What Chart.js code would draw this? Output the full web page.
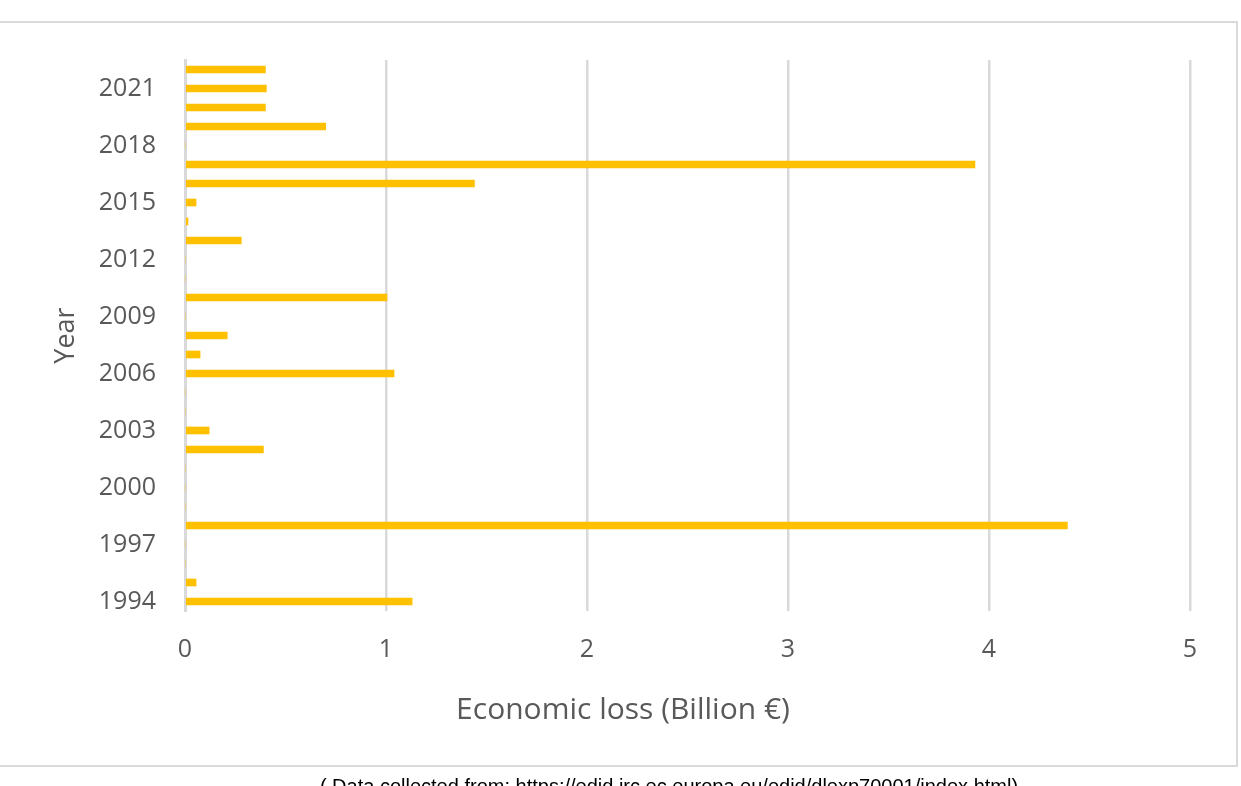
<!DOCTYPE html>
<html>
<head>
<meta charset="utf-8">
<script src="https://cdn.jsdelivr.net/npm/chart.js@4"></script>
<style>
  html, body { margin: 0; padding: 0; background: #fff; overflow: hidden; }
  #wrap { position: relative; width: 1241px; height: 786px; }
  #frame { position: absolute; left: -4px; top: 21px; width: 1238px; height: 742px; border: 2px solid #d9d9d9; }
  #grafico { position: absolute; left: 0; top: 0; }
  #fonte { position: absolute; left: 0; width: 1338px; top: 775px; text-align: center;
           font: 20px "Liberation Sans", Arial, sans-serif; color: #000; white-space: nowrap; }
</style>
</head>
<body>
<div id="wrap">
  <div id="frame"></div>
  <canvas id="grafico" width="1241" height="786"></canvas>
  <div id="fonte">( Data collected from: https://edid.jrc.ec.europa.eu/edid/dlexp70001/index.html)</div>
</div>
<script>
// Anos (eixo de categorias) e perdas económicas em mil milhões de euros
const anos = [1994, 1995, 1996, 1997, 1998, 1999, 2000, 2001, 2002, 2003, 2004, 2005, 2006, 2007,
              2008, 2009, 2010, 2011, 2012, 2013, 2014, 2015, 2016, 2017, 2018, 2019, 2020, 2021, 2022];
const perdas = [1.13, 0.055, 0, 0, 4.39, 0, 0, 0, 0.39, 0.12, 0, 0, 1.04, 0.075,
                0.21, 0, 1.005, 0, 0, 0.28, 0.015, 0.055, 1.44, 3.93, 0, 0.70, 0.40, 0.405, 0.40];
const ticksX = [0, 1, 2, 3, 4, 5];
const tituloX = 'Economic loss (Billion €)';

const corTexto = '#595959';
const fonteBase = '"Open Sans", "Liberation Sans", sans-serif';

// Título do eixo X centrado na moldura inteira (como no Excel), não só na área do gráfico
const tituloEixoX = {
  id: 'tituloEixoX',
  afterDraw(chart) {
    const ctx = chart.ctx;
    ctx.save();
    ctx.fillStyle = corTexto;
    ctx.font = '30px ' + fonteBase;
    ctx.textAlign = 'center';
    ctx.textBaseline = 'middle';
    ctx.fillText(tituloX, 623, 710);
    ctx.restore();
  }
};

new Chart(document.getElementById('grafico').getContext('2d'), {
  type: 'bar',
  data: {
    labels: anos.map(String),
    datasets: [{
      data: perdas,
      backgroundColor: '#FFC000',
      barThickness: 7
    }]
  },
  options: {
    indexAxis: 'y',
    responsive: false,
    animation: false,
    layout: { padding: { left: 0, right: 51, top: 60, bottom: 45 } },
    plugins: { legend: { display: false }, tooltip: { enabled: false } },
    scales: {
      x: {
        min: ticksX[0],
        max: ticksX[ticksX.length - 1],
        afterBuildTicks: s => { s.ticks = ticksX.map(v => ({ value: v })); },
        afterFit: s => { s.height = 130; },
        grid: { color: '#d9d9d9', lineWidth: 2.5, drawTicks: false },
        border: { display: false },
        ticks: { color: corTexto, font: { family: fonteBase, size: 25 }, padding: 24 },
        title: { display: false }
      },
      y: {
        reverse: true,
        afterFit: s => { s.width = 185; },
        grid: { display: false, drawTicks: false },
        border: { display: true, color: '#d9d9d9', width: 3 },
        ticks: {
          autoSkip: false,
          color: corTexto,
          font: { family: fonteBase, size: 25 },
          padding: 29,
          callback: function (v, i) { return (anos[i] - 1994) % 3 === 0 ? anos[i] : ''; }
        },
        title: { display: true, text: 'Year', color: corTexto,
                 font: { family: fonteBase, size: 27 }, padding: { top: 50, bottom: 0 } }
      }
    }
  },
  plugins: [tituloEixoX]
});
</script>
</body>
</html>
